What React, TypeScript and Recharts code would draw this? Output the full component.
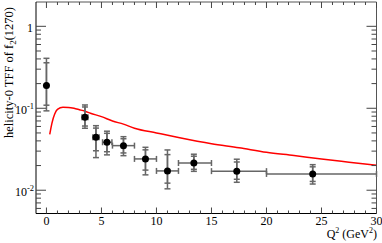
import React from 'react';
import {
  ComposedChart,
  Line,
  Scatter,
  ErrorBar,
  XAxis,
  YAxis,
  ReferenceLine,
} from 'recharts';

// measured points: Q^2 (GeV^2) and helicity-0 TFF
const q2 = [0, 3.5, 4.5, 5.5, 7, 9, 11, 13.4, 17.3, 24.2];
const q2Lo = [0, 0.27, 0.28, 0.4, 1, 1, 1, 1.4, 2.3, 4.2];
const q2Hi = [0, 0.27, 0.28, 0.45, 1, 1, 1, 1.6, 2.7, 5.8];
const tff = [0.189, 0.0777, 0.0443, 0.0385, 0.035, 0.0241, 0.0172, 0.0215, 0.0171, 0.0158];
const totLo = [0.096, 0.0207, 0.0193, 0.0115, 0.0086, 0.0087, 0.0068, 0.0045, 0.0046, 0.0039];
const totHi = [0.218, 0.032, 0.017, 0.014, 0.01, 0.0093, 0.0138, 0.006, 0.0068, 0.0047];
const statLo = [0.08, 0.017, 0.014, 0.009, 0.0065, 0.0065, 0.005, 0.0035, 0.0035, 0.003];
const statHi = [0.17, 0.026, 0.013, 0.011, 0.0075, 0.007, 0.01, 0.0045, 0.005, 0.0035];

// theory curve (red)
const curveQ2 = [0.3, 0.5, 0.75, 1, 1.5, 2, 2.5, 3, 3.5, 4, 5, 6, 7, 8, 10, 12, 15, 17.5, 20, 22.5, 25, 27.5, 30];
const curveTff = [
  0.048, 0.066, 0.085, 0.097, 0.103, 0.1025, 0.1, 0.096, 0.092, 0.087, 0.079, 0.07, 0.064,
  0.057, 0.05, 0.044, 0.037, 0.033, 0.029, 0.0265, 0.024, 0.022, 0.0202,
];

const xTicks = Array.from({ length: 31 }, (_, i) => i);
const yMajor = [0.01, 0.1, 1];
const yMinor = [
  0.006, 0.007, 0.008, 0.009, 0.02, 0.03, 0.04, 0.05, 0.06, 0.07, 0.08, 0.09, 0.2, 0.3, 0.4,
  0.5, 0.6, 0.7, 0.8, 0.9,
];

const points = q2.map((x, i) => ({
  x,
  y: tff[i],
  ex: [q2Lo[i], q2Hi[i]],
  eTot: [totLo[i], totHi[i]],
  eStat: [statLo[i], statHi[i]],
}));
const curve = curveQ2.map((x, i) => ({ x, y: curveTff[i] }));

const W = 382;
const H = 243;
const LEFT = 36;
const RIGHT = 376.5;
const TOP = 2;
const BOTTOM_H = 29.5;
const FONT = '"Liberation Serif", "DejaVu Serif", serif';
const TICK = '#444';
const ERR = '#666';

const YTick = (props: any) => {
  const { y, payload } = props;
  const v = payload.value;
  const major = yMajor.includes(v);
  const len = major ? 10 : 5;
  const exp = Math.round(Math.log10(v));
  return (
    <g>
      <line x1={LEFT} x2={LEFT + len} y1={y} y2={y} stroke={TICK} />
      <line x1={RIGHT} x2={RIGHT - len} y1={y} y2={y} stroke={TICK} />
      {major &&
        (exp === 0 ? (
          <text x={33} y={y + 5.5} textAnchor="end" fontSize={12} fontFamily={FONT} fill="#000">
            1
          </text>
        ) : (
          <text x={34} y={y + 5.5} textAnchor="end" fontSize={12} fontFamily={FONT} fill="#000">
            10
            <tspan fontSize={8.5} dy={-5}>
              {exp}
            </tspan>
          </text>
        ))}
    </g>
  );
};

const XTick = (props: any) => {
  const { x, payload } = props;
  const y = H - BOTTOM_H;
  const v = payload.value;
  const major = v % 5 === 0;
  const len = major ? 6 : 3;
  return (
    <g>
      <line x1={x} x2={x} y1={y} y2={y - len} stroke={TICK} />
      <line x1={x} x2={x} y1={TOP} y2={TOP + len} stroke={TICK} />
      {major && (
        <text x={x} y={y + 11} textAnchor="middle" fontSize={12} fontFamily={FONT} fill="#000">
          {v}
        </text>
      )}
    </g>
  );
};

const Dot = (props: any) => <circle cx={props.cx} cy={props.cy} r={3.5} fill="#000" />;

export default function App() {
  return (
    <div style={{ position: 'relative', width: W, height: H }}>
      <style>{'body{margin:0}'}</style>
      <ComposedChart
        width={W}
        height={H}
        margin={{ top: TOP, right: W - RIGHT, bottom: 0, left: 0 }}
      >
        <XAxis
          dataKey="x"
          type="number"
          domain={[-0.95, 30]}
          allowDataOverflow
          ticks={xTicks}
          interval={0}
          tickSize={0}
          tickMargin={0}
          height={BOTTOM_H}
          tick={<XTick />}
          axisLine={{ stroke: '#000' }}
          tickLine={false}
        />
        <YAxis
          type="number"
          scale="log"
          domain={[0.0052, 1.98]}
          allowDataOverflow
          ticks={[...yMinor, ...yMajor].sort((a, b) => a - b)}
          interval={0}
          tickSize={0}
          tickMargin={0}
          width={LEFT}
          tick={<YTick />}
          axisLine={{ stroke: '#000' }}
          tickLine={false}
        />
        <ReferenceLine x={30} stroke="#555" ifOverflow="visible" />
        <ReferenceLine y={1.98} stroke="#555" ifOverflow="visible" />
        <Line
          data={curve}
          dataKey="y"
          type="monotone"
          stroke="#ff0000"
          strokeWidth={1.5}
          dot={false}
          isAnimationActive={false}
        />
        <Scatter data={points} dataKey="y" shape={<Dot />} isAnimationActive={false}>
          <ErrorBar dataKey="ex" direction="x" stroke={ERR} width={3} isAnimationActive={false} />
          <ErrorBar dataKey="eTot" direction="y" stroke={ERR} width={3} isAnimationActive={false} />
          <ErrorBar dataKey="eStat" direction="y" stroke={ERR} width={3} isAnimationActive={false} />
        </Scatter>
      </ComposedChart>
      <svg
        width={W}
        height={H}
        style={{ position: 'absolute', left: 0, top: 0, pointerEvents: 'none' }}
      >
        <text
          transform="translate(13,7) rotate(-90)"
          textAnchor="end"
          fontSize={12.5}
          fontFamily={FONT}
          fill="#000"
        >
          helicity-0 TFF of f
          <tspan fontSize={9} dy={3}>
            2
          </tspan>
          <tspan dy={-3}>(1270)</tspan>
        </text>
        <text x={377} y={237.5} textAnchor="end" fontSize={12} fontFamily={FONT} fill="#000">
          Q
          <tspan fontSize={8} dy={-4.5}>
            2
          </tspan>
          <tspan dy={4.5}> (GeV</tspan>
          <tspan fontSize={8} dy={-4.5}>
            2
          </tspan>
          <tspan dy={4.5}>)</tspan>
        </text>
      </svg>
    </div>
  );
}
